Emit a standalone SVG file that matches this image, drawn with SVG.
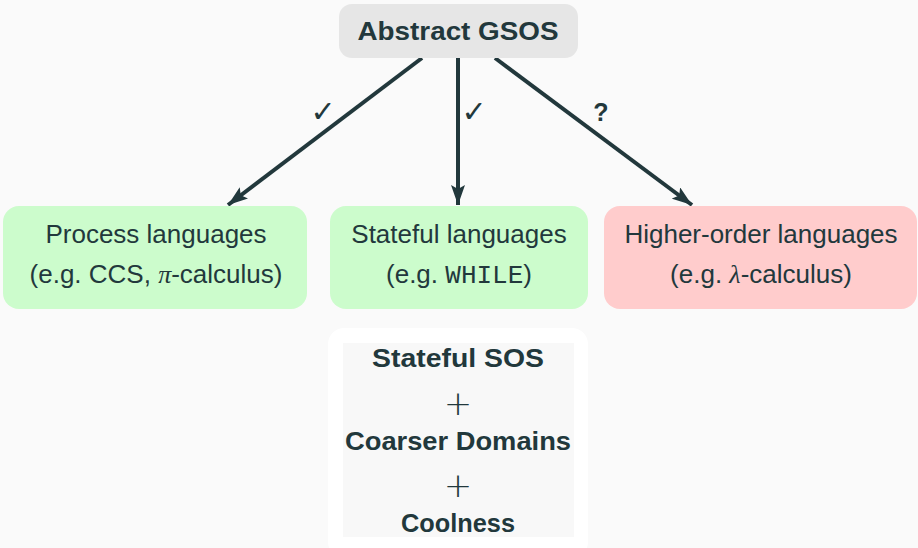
<svg xmlns="http://www.w3.org/2000/svg" width="918" height="548" viewBox="0 0 918 548">
  <style>
    .txt { font-family: "Liberation Sans", "DejaVu Sans", sans-serif; fill: #22383c; text-anchor: middle; }
    .reg { font-size: 26px; }
    .bold { font-size: 26px; font-weight: bold; }
    .mono { font-family: "Liberation Mono", "DejaVu Sans Mono", monospace; }
    .it { font-family: "Liberation Serif", serif; font-style: italic; }
    .edge { stroke: #22383c; stroke-width: 4; fill: none; }
    .lbl { font-family: "DejaVu Sans", sans-serif; fill: #22383c; font-size: 30px; text-anchor: middle; }
    .plus { font-family: "DejaVu Sans", sans-serif; fill: #22383c; font-size: 34px; font-weight: 300; text-anchor: middle; }
  </style>
  <defs>
    <marker id="arrow" markerUnits="userSpaceOnUse" viewBox="0 0 20 14" refX="20" refY="7" markerWidth="20" markerHeight="14" orient="auto">
      <path d="M0,0 L20,7 L0,14 L4,7 Z" fill="#22383c"/>
    </marker>
  </defs>
  <rect width="918" height="548" fill="#fafafa"/>

  <g id="connectors">
    <line class="edge" x1="422" y1="58" x2="228" y2="205" marker-end="url(#arrow)"/>
    <line class="edge" x1="458" y1="58" x2="458" y2="205" marker-end="url(#arrow)"/>
    <line class="edge" x1="495" y1="58" x2="692" y2="205" marker-end="url(#arrow)"/>
    <text class="lbl" x="323" y="122">✓</text>
    <text class="lbl" x="474" y="122">✓</text>
    <text class="txt" x="601" y="121" style="font-size:25px;font-weight:bold">?</text>
  </g>

  <g id="abstract-gsos">
    <rect x="339" y="4" width="239" height="54" rx="13" fill="#e6e6e6"/>
    <text class="txt bold" x="458" y="40" textLength="201" lengthAdjust="spacingAndGlyphs">Abstract GSOS</text>
  </g>

  <g id="process-languages">
    <rect x="3" y="206" width="304" height="103" rx="16" fill="#ccfccc"/>
    <text class="txt reg" x="156" y="243">Process languages</text>
    <text class="txt reg" x="156" y="283">(e.g. CCS, <tspan class="it">π</tspan>-calculus)</text>
  </g>

  <g id="stateful-languages">
    <rect x="330" y="206" width="258" height="103" rx="16" fill="#ccfccc"/>
    <text class="txt reg" x="459" y="243">Stateful languages</text>
    <text class="txt reg" x="459" y="283">(e.g. <tspan class="mono">WHILE</tspan>)</text>
  </g>

  <g id="higher-order-languages">
    <rect x="604" y="206" width="313" height="103" rx="16" fill="#ffcccc"/>
    <text class="txt reg" x="761" y="243">Higher-order languages</text>
    <text class="txt reg" x="761" y="283">(e.g. <tspan class="it">λ</tspan>-calculus)</text>
  </g>

  <g id="stateful-sos">
    <rect x="328" y="328" width="260" height="230" rx="16" fill="#ffffff"/>
    <rect x="343" y="343" width="231" height="194" fill="#f8f8f8"/>
    <text class="txt bold" x="458" y="367" textLength="172" lengthAdjust="spacingAndGlyphs">Stateful SOS</text>
    <text class="plus" x="458" y="415">+</text>
    <text class="txt bold" x="458" y="450" textLength="226" lengthAdjust="spacingAndGlyphs">Coarser Domains</text>
    <text class="plus" x="458" y="497">+</text>
    <text class="txt bold" x="458" y="532" textLength="114" lengthAdjust="spacingAndGlyphs">Coolness</text>
  </g>
</svg>
